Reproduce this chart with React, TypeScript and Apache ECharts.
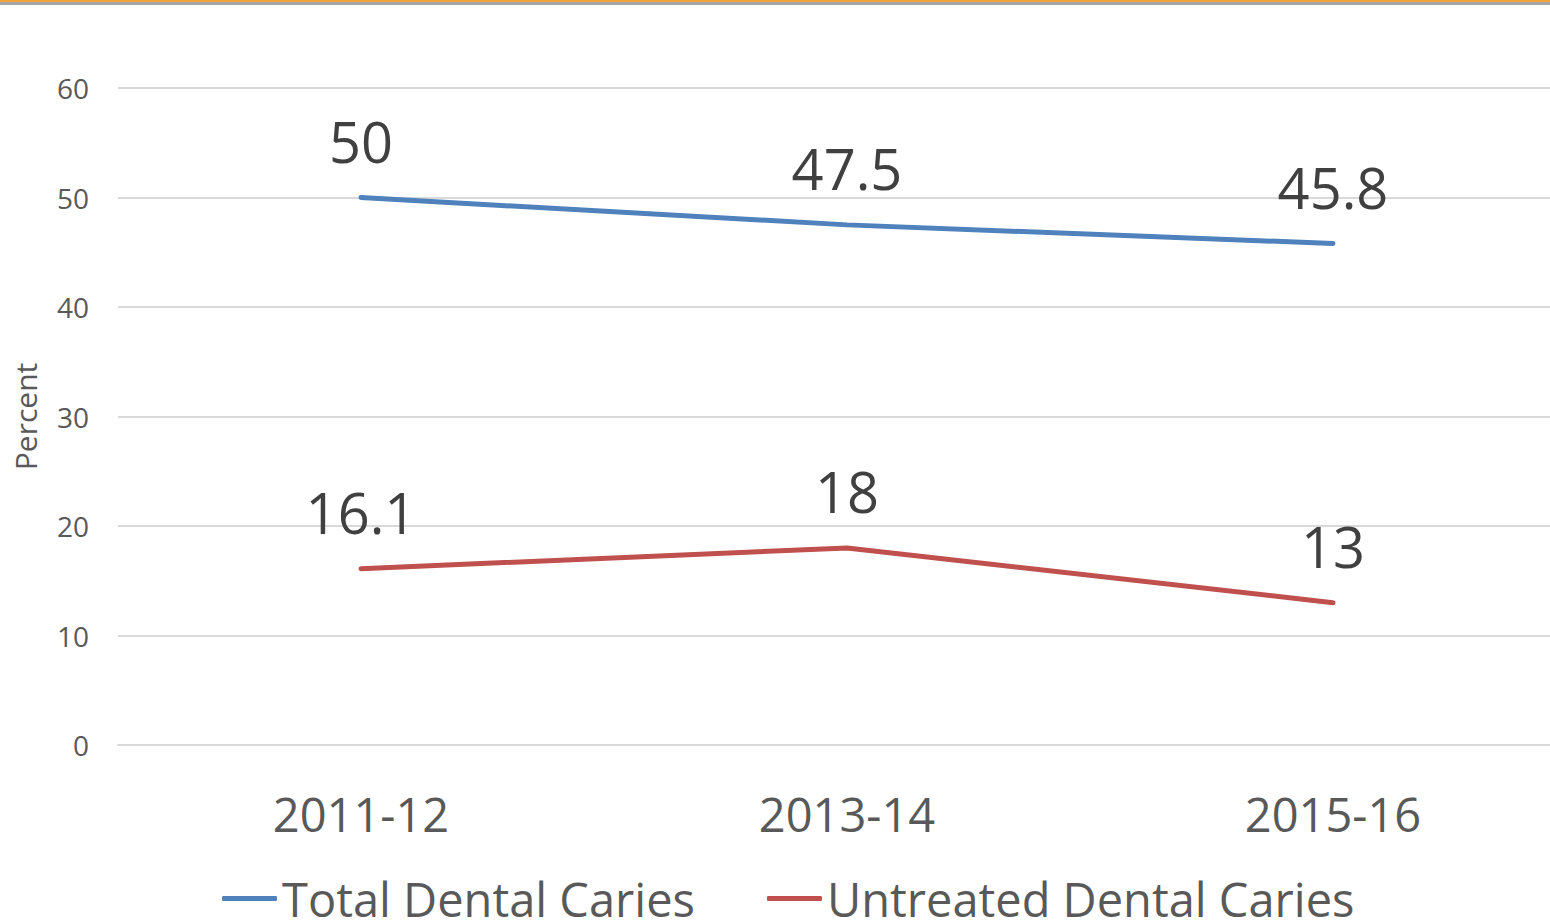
import React, { useEffect, useRef } from "react";
import * as echarts from "echarts";

const categories = ["2011-12", "2013-14", "2015-16"];
const totalCaries = [50, 47.5, 45.8];
const untreatedCaries = [16.1, 18, 13];
const seriesNames = ["Total Dental Caries", "Untreated Dental Caries"];
const yTicks = { min: 0, max: 60, interval: 10 };

const FONT = "'Open Sans', 'Noto Sans', sans-serif";

export default function App() {
  const ref = useRef<HTMLDivElement>(null);
  useEffect(() => {
    if (!ref.current) return;
    const chart = echarts.init(ref.current, null, { renderer: "svg" });
    const labelStyle = {
      show: true,
      position: "top" as const,
      distance: 27,
      fontSize: 56,
      color: "#404040",
      fontFamily: FONT,
    };
    chart.setOption({
      animation: false,
      backgroundColor: "#ffffff",
      textStyle: { fontFamily: FONT },
      graphic: [
        { type: "rect", shape: { x: 0, y: 0, width: 1600, height: 2 }, style: { fill: "#F2A23A" } },
        { type: "rect", shape: { x: 0, y: 2, width: 1600, height: 3 }, style: { fill: "#A6A6A6" } },
      ],
      grid: { left: 118, right: 24, top: 88, bottom: 178 },
      legend: {
        left: 217,
        top: 870,
        itemWidth: 55,
        itemHeight: 5,
        itemGap: 72,
        icon: "roundRect",
        textStyle: { fontSize: 47, color: "#595959", fontFamily: FONT },
        data: seriesNames,
      },
      xAxis: {
        type: "category",
        data: categories,
        boundaryGap: true,
        axisLine: { show: true, lineStyle: { color: "#D9D9D9", width: 2 } },
        axisTick: { show: false },
        axisLabel: { fontSize: 47, color: "#595959", margin: 45, fontFamily: FONT },
        splitLine: { show: false },
      },
      yAxis: {
        type: "value",
        min: yTicks.min,
        max: yTicks.max,
        interval: yTicks.interval,
        name: "Percent",
        nameLocation: "middle",
        nameGap: 78,
        nameTextStyle: { fontSize: 30, color: "#595959", fontFamily: FONT },
        axisLine: { show: false },
        axisTick: { show: false },
        axisLabel: { fontSize: 28, color: "#595959", margin: 29, fontFamily: FONT },
        splitLine: { show: true, lineStyle: { color: "#D9D9D9", width: 2 } },
      },
      series: [
        {
          name: seriesNames[0],
          type: "line",
          data: totalCaries,
          symbol: "circle",
          symbolSize: 3,
          showSymbol: true,
          color: "#4F81BD",
          itemStyle: { color: "#4F81BD" },
          lineStyle: { width: 5, color: "#4F81BD", cap: "round" },
          label: labelStyle,
        },
        {
          name: seriesNames[1],
          type: "line",
          data: untreatedCaries,
          symbol: "circle",
          symbolSize: 3,
          showSymbol: true,
          color: "#C0504D",
          itemStyle: { color: "#C0504D" },
          lineStyle: { width: 5, color: "#C0504D", cap: "round" },
          label: labelStyle,
        },
      ],
    });
    return () => chart.dispose();
  }, []);
  return (
    <div style={{ position: "absolute", left: 0, top: 0, width: 1550, height: 923, overflow: "hidden", background: "#fff" }}>
      <div ref={ref} style={{ width: 1600, height: 923 }} />
    </div>
  );
}
